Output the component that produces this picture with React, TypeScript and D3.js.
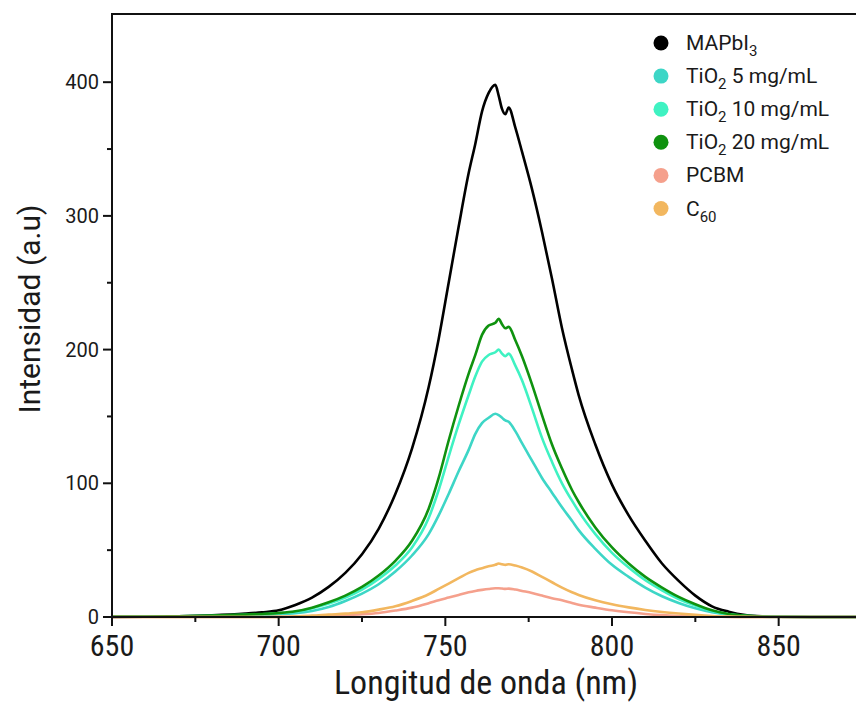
import React from "react";
import * as d3 from "d3";

// Wavelength grid (nm) shared by every spectrum
const wavelengths = [650, 660, 670, 680, 690, 695, 700, 705, 710, 715, 720, 725, 730, 735, 740, 745, 748, 751, 754, 757, 759, 761, 763, 765, 766, 767, 768, 769, 771, 773, 776, 779, 782, 785, 788, 790, 795, 800, 805, 810, 815, 820, 825, 830, 835, 840, 845, 850, 860, 873];

// Photoluminescence intensity (a.u.) for each sample
const mapbi3 = [0, 0.2, 0.5, 1.2, 2.5, 3.5, 5, 9, 14.5, 22.5, 33, 47, 66, 92, 126, 172, 208, 250, 292, 332, 354, 378, 392, 398, 390, 380, 376, 381, 366, 348, 320, 288, 253, 216, 185, 166, 129, 99, 76, 57, 40, 27, 16, 8, 4, 1.5, 0.5, 0.2, 0, 0];
const tio2_5 = [0.2, 0.3, 0.4, 0.6, 1.1, 1.6, 2, 2.8, 4.5, 7.5, 12, 17.5, 24.5, 34, 46, 62, 76, 92, 109, 125, 137, 145, 149, 152, 151, 149, 147, 146, 139, 130, 117, 104, 93, 82, 72, 65, 51, 39, 30, 22, 15.5, 10.5, 6.5, 3.6, 1.8, 0.8, 0.3, 0.1, 0, 0];
const tio2_10 = [0.3, 0.4, 0.5, 0.9, 1.6, 2.1, 2.8, 3.9, 6.5, 10, 14.5, 20.5, 28.5, 38.5, 52, 74, 95, 120, 144, 166, 180, 191, 196, 198, 200, 197, 195, 197, 188, 177, 156, 134, 116, 100, 87, 79, 62, 48, 37, 27.5, 20, 13.5, 8.5, 4.5, 2, 0.9, 0.4, 0.2, 0, 0];
const tio2_20 = [0.3, 0.4, 0.6, 1, 1.8, 2.3, 3, 4.3, 7, 11, 16, 22.5, 31, 42, 57, 81, 104, 132, 158, 182, 196, 211, 218, 220, 223, 219, 216, 217, 207, 195, 174, 151, 129, 111, 95, 86, 67, 52, 40, 30, 22, 15, 9.5, 5, 2.3, 1, 0.4, 0.2, 0, 0];
const pcbm = [0, 0, 0, 0, 0, 0, 0.1, 0.3, 0.5, 0.9, 1.4, 2, 3, 4.8, 7, 10.3, 12.5, 14.5, 16.5, 18.5, 19.5, 20.3, 21, 21.5, 21.5, 21.3, 21, 21.2, 20.5, 19.5, 18, 16, 14, 12.5, 10.5, 9.2, 7, 5, 3.5, 2.3, 1.4, 0.8, 0.4, 0.2, 0.1, 0, 0, 0, 0, 0];
const c60 = [0, 0, 0, 0, 0, 0, 0.1, 0.5, 1, 1.8, 2.5, 3.5, 5.5, 8, 12, 17, 21, 25, 29, 33, 35, 36.5, 38, 39, 40, 39.5, 39, 39.5, 38.5, 37, 34, 30, 26, 22, 18.5, 16.5, 12.5, 9.5, 7.2, 5.3, 3.8, 2.6, 1.6, 0.8, 0.3, 0.1, 0, 0, 0, 0];

const xTicks = [650, 700, 750, 800, 850];
const xMinorTicks = [675, 725, 775, 825];
const yTicks = [0, 100, 200, 300, 400];
const yMinorTicks = [50, 150, 250, 350];

type Series = { name: string; sub?: string; suffix?: string; color: string; values: number[] };

const series: Series[] = [
  { name: "MAPbI", sub: "3", color: "#000000", values: mapbi3 },
  { name: "TiO", sub: "2", suffix: " 5 mg/mL", color: "#3dd6c6", values: tio2_5 },
  { name: "TiO", sub: "2", suffix: " 10 mg/mL", color: "#3ff2c2", values: tio2_10 },
  { name: "TiO", sub: "2", suffix: " 20 mg/mL", color: "#0f920f", values: tio2_20 },
  { name: "PCBM", color: "#f5a08c", values: pcbm },
  { name: "C", sub: "60", color: "#f2b75f", values: c60 },
];

const W = 856;
const H = 702;
const left = 112;
const top = 14;
const bottom = 617;

export default function App() {
  const x = d3.scaleLinear().domain([650, 873.2]).range([left, W]);
  const y = d3.scaleLinear().domain([0, 451]).range([bottom, top]);

  const line = d3
    .line<number>()
    .x((_, i) => x(wavelengths[i]))
    .y((d) => y(d))
    .curve(d3.curveMonotoneX);

  const roboto = "Roboto, 'Noto Sans', sans-serif";
  const narrow = "'Liberation Sans Narrow', 'Roboto Condensed', 'Liberation Sans', sans-serif";

  return (
    <svg
      width={W}
      height={H}
      viewBox={`0 0 ${W} ${H}`}
      style={{ position: "absolute", left: 0, top: 0, background: "#fff" }}
    >
      <rect x={0} y={0} width={W} height={H} fill="#fff" />

      {/* spectra */}
      <g fill="none" strokeWidth={2.6} strokeLinejoin="round" strokeLinecap="round">
        {series.map((s, i) => (
          <path key={i} d={line(s.values) || ""} stroke={s.color} />
        ))}
      </g>

      {/* frame and axes */}
      <g stroke="#111" strokeWidth={2} fill="none">
        <line x1={x(650)} x2={x(650)} y1={top} y2={bottom} />
        <line x1={x(650) - 1} x2={W} y1={top} y2={top} />
        <line x1={x(650) - 8} x2={W} y1={bottom} y2={bottom} />
        {yTicks.map((t) => (
          <line key={"yt" + t} x1={x(650) - 9} x2={x(650)} y1={y(t)} y2={y(t)} />
        ))}
        {yMinorTicks.map((t) => (
          <line key={"ym" + t} x1={x(650) - 5} x2={x(650)} y1={y(t)} y2={y(t)} />
        ))}
        {xTicks.map((t) => (
          <line key={"xt" + t} x1={x(t)} x2={x(t)} y1={bottom} y2={bottom + 9} />
        ))}
        {xMinorTicks.map((t) => (
          <line key={"xm" + t} x1={x(t)} x2={x(t)} y1={bottom} y2={bottom + 5} />
        ))}
      </g>

      {/* y tick labels */}
      <g fontFamily={roboto} fontSize={20} fill="#1a1a1a" textAnchor="end">
        {yTicks.map((t) => (
          <text key={"yl" + t} x={x(650) - 13} y={y(t) + 7}>
            {t}
          </text>
        ))}
      </g>

      {/* x tick labels */}
      <g fontFamily={narrow} fontSize={30} fill="#1a1a1a" textAnchor="middle">
        {xTicks.map((t) => (
          <text key={"xl" + t} x={x(t)} y={656}>
            {t}
          </text>
        ))}
      </g>

      {/* axis titles */}
      <text
        x={486}
        y={694}
        fontFamily={narrow}
        fontSize={34}
        fill="#1a1a1a"
        textAnchor="middle"
      >
        Longitud de onda (nm)
      </text>
      <text
        transform={`translate(40, 309) rotate(-90)`}
        fontFamily={roboto}
        fontSize={30}
        fill="#1a1a1a"
        textAnchor="middle"
      >
        Intensidad (a.u)
      </text>

      {/* legend */}
      <g fontFamily={roboto} fontSize={21} fill="#1a1a1a">
        {series.map((s, i) => {
          const cy = 43 + i * 33.1;
          return (
            <g key={"lg" + i}>
              <circle cx={661} cy={cy} r={7.5} fill={s.color} />
              <text x={686} y={cy + 7}>
                {s.name}
                {s.sub && (
                  <tspan fontSize={15} dy={6}>
                    {s.sub}
                  </tspan>
                )}
                {s.suffix && <tspan dy={s.sub ? -6 : 0}>{s.suffix}</tspan>}
              </text>
            </g>
          );
        })}
      </g>
    </svg>
  );
}
